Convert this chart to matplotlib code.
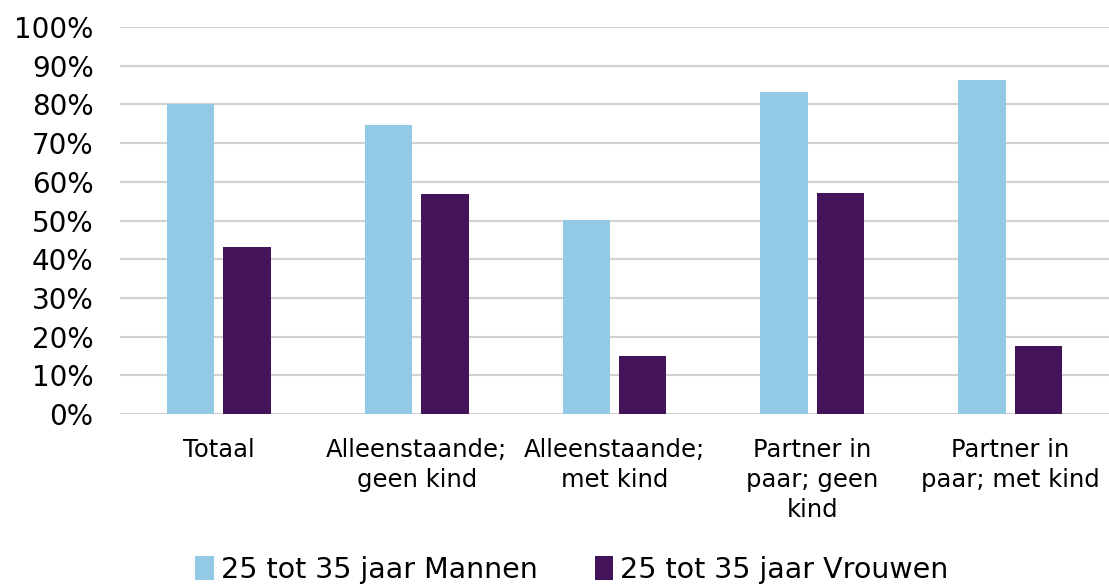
import matplotlib
matplotlib.use("Agg")
import matplotlib.pyplot as plt
import numpy as np
from matplotlib.ticker import PercentFormatter

categories = ["Totaal", "Alleenstaande;\ngeen kind", "Alleenstaande;\nmet kind",
              "Partner in\npaar; geen\nkind", "Partner in\npaar; met kind"]
mannen = [80.0, 74.7, 50.1, 83.3, 86.4]
vrouwen = [43.2, 56.8, 15.0, 57.2, 17.7]
series_labels = ["25 tot 35 jaar Mannen", "25 tot 35 jaar Vrouwen"]
yticks = [0, 10, 20, 30, 40, 50, 60, 70, 80, 90, 100]

c_blue = "#92C9E5"
c_purple = "#43145A"

fig = plt.figure(figsize=(11.09, 5.85), dpi=100)
ax = fig.add_axes([120/1109, 1 - 414/585, 1 - 120/1109, (414 - 27)/585])

x = np.arange(len(categories))
w = 0.24
off = 0.1425
ax.bar(x - off, mannen, w, color=c_blue, label=series_labels[0], zorder=3)
ax.bar(x + off, vrouwen, w, color=c_purple, label=series_labels[1], zorder=3)

ax.set_xlim(-0.5, len(categories) - 0.5)
ax.set_ylim(0, 100)
ax.set_yticks(yticks)
ax.yaxis.set_major_formatter(PercentFormatter(decimals=0))
ax.set_xticks(x)
ax.set_xticklabels(categories, fontsize=17.5, linespacing=1.32)
ax.tick_params(axis="y", length=0, pad=19, labelsize=20)
ax.tick_params(axis="x", length=0, pad=17)
ax.grid(axis="y", color="#d2d2d2", linewidth=1.6, zorder=0)
for s in ax.spines.values():
    s.set_visible(False)

fig.legend(loc="center", bbox_to_anchor=(572/1109, 1 - 570/585), ncol=2, frameon=False,
           fontsize=20.5, handlelength=0.65, handleheight=0.9, handletextpad=0.25,
           columnspacing=2.0, borderaxespad=0)

fig.savefig("out.png", dpi=100)
